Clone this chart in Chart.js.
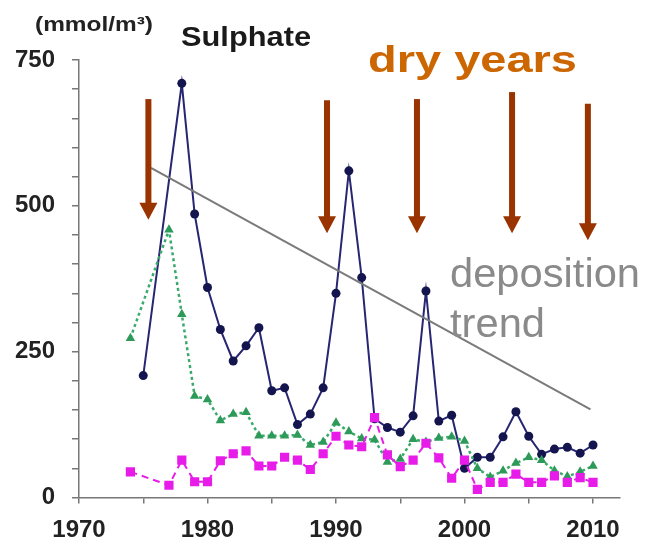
<!DOCTYPE html>
<html>
<head>
<meta charset="utf-8">
<script src="https://cdn.jsdelivr.net/npm/chart.js@4/dist/chart.umd.min.js"></script>
<style>
  html, body { margin: 0; padding: 0; background: #ffffff; }
  canvas { display: block; }
</style>
</head>
<body>
<canvas id="chart" width="646" height="544"></canvas>
<script>
// Annual sulphate concentrations (mmol/m³)
const years = [1974, 1975, 1976, 1977, 1978, 1979, 1980, 1981, 1982, 1983, 1984, 1985, 1986,
  1987, 1988, 1989, 1990, 1991, 1992, 1993, 1994, 1995, 1996, 1997, 1998, 1999, 2000, 2001,
  2002, 2003, 2004, 2005, 2006, 2007, 2008, 2009, 2010];

const navySeries = [null, 209, null, null, 710, 486, 360, 288, 234, 260, 291, 183, 188,
  125, 143, 188, 350, 560, 377, 135, 120, 112, 140, 354, 131, 141, 50, 69,
  69, 104, 147, 105, 74, 83, 86, 76, 90];

const greenSeries = [273, null, null, 459, 314, 174, 168, 132, 143, 146, 106, 106, 106,
  107, 90, 95, 128, 113, 101, 99, 61, 66, 100, 95, 102, 104, 97, 50,
  35, 46, 59, 69, 64, 46, 36, 44, 54];

const magentaSeries = [44, null, null, 21, 64, 27, 27, 63, 75, 80, 54, 54, 69,
  64, 48, 75, 105, 90, 87, 137, 73, 53, 64, 93, 68, 33, 64, 14,
  26, 26, 40, 26, 26, 37, 26, 34, 26];

// Deposition trend line end points
const trendYears = [1975.6, 2009.8];
const trendValues = [565, 151];

// Dry-year markers: year, arrow start value, arrow tip value
const dryYearArrows = [1975.4, 1989.3, 1996.3, 2003.7, 2009.6];
const arrowFrom = [683, 681, 683, 695, 675];
const arrowTo = [476, 453, 453, 453, 441];

// Axis ticks
const xTickValues = [1970, 1975, 1980, 1985, 1990, 1995, 2000, 2005, 2010];
const xTickLabels = [1970, 1980, 1990, 2000, 2010];
const yTickLabels = [0, 250, 500, 750];

function toPoints(xs, ys) {
  const pts = [];
  xs.forEach((x, i) => { if (ys[i] !== null && ys[i] !== undefined) pts.push({ x: x, y: ys[i] }); });
  return pts;
}

const FONT = '"Liberation Sans", Arial, Helvetica, sans-serif';

// Draws text stretched horizontally to a given width
function fitText(ctx, str, x, baseline, font, color, width) {
  ctx.save();
  ctx.font = font;
  ctx.fillStyle = color;
  ctx.textAlign = 'left';
  ctx.textBaseline = 'alphabetic';
  const w = ctx.measureText(str).width;
  ctx.translate(x, baseline);
  ctx.scale(width / w, 1);
  ctx.fillText(str, 0, 0);
  ctx.restore();
}

const arrowPlugin = {
  id: 'dryYearArrows',
  afterDatasetsDraw(chart) {
    const { ctx, scales } = chart;
    const xs = scales.x, ys = scales.y;
    ctx.save();
    ctx.fillStyle = '#993300';
    dryYearArrows.forEach((yr, i) => {
      const x = xs.getPixelForValue(yr);
      const y0 = ys.getPixelForValue(arrowFrom[i]);
      const y1 = ys.getPixelForValue(arrowTo[i]);
      const shaft = 6, headW = 18, headL = 17;
      ctx.fillRect(x - shaft / 2, y0, shaft, (y1 - headL) - y0 + 1);
      ctx.beginPath();
      ctx.moveTo(x - headW / 2, y1 - headL);
      ctx.lineTo(x + headW / 2, y1 - headL);
      ctx.lineTo(x, y1);
      ctx.closePath();
      ctx.fill();
    });
    ctx.restore();
  }
};

const textPlugin = {
  id: 'chartTexts',
  afterDraw(chart) {
    const ctx = chart.ctx;
    fitText(ctx, '(mmol/m³)', 35, 31, 'bold 20px ' + FONT, '#222222', 118);
    fitText(ctx, 'Sulphate', 181, 46, 'bold 27px ' + FONT, '#1a1a1a', 130);
    fitText(ctx, 'dry years', 368, 72, 'bold 37px ' + FONT, '#cc6600', 209);
    fitText(ctx, 'deposition', 450, 287, '40px ' + FONT, '#8a8a8a', 190);
    fitText(ctx, 'trend', 450, 337, '40px ' + FONT, '#8a8a8a', 95);
  }
};

new Chart(document.getElementById('chart'), {
  type: 'line',
  data: {
    datasets: [
      {
        label: 'trend',
        data: toPoints(trendYears, trendValues),
        borderColor: '#7a7a7a',
        borderWidth: 2,
        pointRadius: 0,
        order: 0
      },
      {
        label: 'magenta',
        data: toPoints(years, magentaSeries),
        borderColor: '#e81ce8',
        backgroundColor: '#e81ce8',
        borderWidth: 2,
        borderDash: [7, 5],
        pointStyle: 'rect',
        pointRadius: 6.5,
        pointBorderWidth: 0,
        order: 1
      },
      {
        label: 'green',
        data: toPoints(years, greenSeries),
        borderColor: '#3aaa6a',
        backgroundColor: '#2e9a5a',
        borderWidth: 2.5,
        borderDash: [3, 3],
        pointStyle: 'triangle',
        pointRadius: 5.5,
        pointBorderWidth: 0,
        order: 2
      },
      {
        label: 'navy',
        data: toPoints(years, navySeries),
        borderColor: '#262673',
        backgroundColor: '#14144e',
        borderWidth: 2,
        pointStyle: 'circle',
        pointRadius: 4.5,
        pointBorderWidth: 0,
        order: 3
      }
    ]
  },
  options: {
    responsive: false,
    devicePixelRatio: 1,
    animation: false,
    events: [],
    layout: { padding: { left: 0, top: 60, right: 26, bottom: 0 } },
    plugins: { legend: { display: false }, tooltip: { enabled: false }, title: { display: false } },
    scales: {
      x: {
        type: 'linear',
        min: 1970,
        max: 2012.1,
        afterFit(scale) { scale.height = 46.5; },
        afterBuildTicks(scale) { scale.ticks = xTickValues.map(v => ({ value: v })); },
        border: { display: true, color: '#777777', width: 1.5 },
        grid: { display: true, drawOnChartArea: false, drawTicks: true, tickLength: 6, color: '#777777', lineWidth: 1.5 },
        ticks: {
          padding: 12,
          maxRotation: 0,
          autoSkip: false,
          color: '#222222',
          font: { family: FONT, size: 24, weight: 'bold' },
          callback: (v) => xTickLabels.includes(v) ? String(v) : ''
        }
      },
      y: {
        type: 'linear',
        min: 0,
        max: 750,
        afterFit(scale) { scale.width = 79; },
        border: { display: true, color: '#777777', width: 1.5 },
        grid: { display: true, drawOnChartArea: false, drawTicks: true, tickLength: 7, color: '#777777', lineWidth: 1.5 },
        ticks: {
          stepSize: 50,
          padding: 17,
          autoSkip: false,
          color: '#222222',
          font: { family: FONT, size: 24, weight: 'bold' },
          callback: (v) => yTickLabels.includes(v) ? String(v) : ''
        }
      }
    }
  },
  plugins: [arrowPlugin, textPlugin]
});
</script>
</body>
</html>
